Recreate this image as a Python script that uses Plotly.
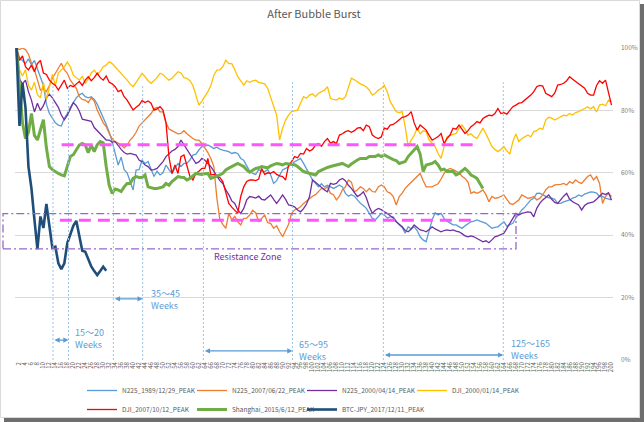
import plotly.graph_objects as go

# ---------------- data (percent of peak, one value per week) ----------------
n225_1989 = [
    100, 97, 96, 95, 96.5, 94.6, 96, 93.5, 91, 88,
    82, 79, 77.5, 76, 75.3, 75, 77.5, 79, 81, 82.5,
    84, 85, 85.5, 84.4, 84, 84.4, 83.5, 82, 80, 78,
    75.5, 73, 70, 66.2, 62.5, 65, 61, 60, 57, 54.5,
    60.9, 61, 64, 63, 63.6, 61, 58.8, 60.5, 59.3, 60,
    62.5, 61, 59.8, 61.5, 63, 62, 63, 63, 64.1, 65.7,
    66, 67.3, 68.4, 68.6, 68.9, 68.4, 67.8, 68.2, 67.6, 67.3,
    67, 66.8, 66.2, 66.5, 66.2, 64.6, 64, 62, 60.5, 59.8,
    59.5, 61, 60.5, 60.4, 61, 59.3, 56.6, 57.5, 59.3, 60.9,
    61.4, 62, 63, 63.5, 64.1, 64.6, 63, 61.4, 59.5, 57.7,
    56.6, 55.5, 56.5, 55.5, 56, 55.5, 55, 55.5, 56.1, 55.5,
    53.4, 52.5, 53, 52.5, 51.3, 50.2, 49.5, 48.6, 47, 45.4,
    44.9, 46, 47, 46.5, 45.5, 45.9, 45.9, 44.5, 43.3, 42.5,
    40.6, 42.7, 42, 42.7, 41.5, 39.5, 38.5, 37.9, 41.1, 44.9,
    47.2, 46.5, 47, 45.4, 44.5, 43.8, 43.3, 43.3, 42.8, 42.2,
    43, 43.8, 44.3, 44.5, 44.9, 44.5, 44.2, 43.8, 43, 42.2,
    42.5, 42.7, 43.5, 44.3, 42.9, 43.3, 43.8, 45.5, 47, 48.1,
    49, 50.2, 51.3, 51.8, 53.4, 53.5, 53, 52.4, 52, 51.9,
    51.5, 50.2, 50.2, 50.7, 51, 51.3, 51.9, 52.2, 52.9, 52.5,
    53.2, 53.5, 53.9, 53.8, 53.5, 52.4, 52.4, 51.9, 51.6, 51.3,
]

n225_2007 = [
    100, 99.5, 100, 99.5, 98, 95.1, 93, 89.7, 86.5, 87,
    86, 88, 90.3, 91.9, 93.5, 95.1, 93, 91.9, 89.7, 88.5,
    87.1, 84.4, 83.5, 83.3, 82.5, 84, 83, 80.1, 78, 76,
    74.8, 72.6, 71, 70, 69.5, 68.9, 68, 68.9, 70.5, 71.5,
    73, 75, 76, 77, 78, 79, 80.5, 81, 79.5, 79.5,
    76, 74, 73.5, 73, 72.5, 72.6, 73.5, 72.5, 71.6, 71,
    70.5, 70.5, 69.4, 68, 66.5, 64.6, 62, 52, 45, 43.5,
    42.2, 47, 44.9, 46, 44.3, 43.3, 45.4, 45.5, 46.5, 48,
    47.2, 44.3, 45.5, 46.5, 44, 43.8, 42.2, 43, 41.1, 39.5,
    41.5, 43.5, 47, 48.1, 48.5, 49.1, 50.2, 51, 52, 52.5,
    53, 53.9, 55, 54.7, 55.5, 53.4, 53, 51.3, 52.5, 54.5,
    55.5, 57.7, 57, 53.9, 54.5, 55.5, 55, 53.9, 55, 54,
    53.8, 55.5, 56.1, 55.5, 53.9, 53.5, 52.4, 49.7, 52.4, 53.5,
    55, 56, 57, 58, 58.8, 59.8, 57.5, 55.5, 55.5, 55.5,
    56, 56.5, 58, 59.8, 60.9, 61.4, 61, 60.4, 60, 58.9,
    58.2, 57, 53.4, 53.9, 53.4, 53.9, 54.5, 53, 50.7, 52.4,
    51.8, 52, 52.4, 52.9, 51.5, 50.2, 49.8, 50.7, 51.3, 52.9,
    52.4, 51.8, 52, 52.4, 51.3, 51.8, 52.9, 54.5, 55.5, 55.5,
    56.1, 56.1, 56.3, 56.6, 56.1, 57.2, 56.6, 57.7, 57, 56.6,
    57.7, 58.8, 59.3, 57.7, 58.8, 56.6, 50.2, 52.4, 53.4, 52.4,
]

n225_2000 = [
    100, 90, 88.5, 89.7, 86, 83.3, 79.5, 82.3, 80, 81.5,
    84, 85.2, 84, 82.5, 81, 78.5, 77, 78.5, 80.3, 82.5,
    81.5, 79.8, 77.2, 77, 76.9, 76.5, 74.5, 73.5, 72.5, 71.5,
    70.5, 70.5, 69.8, 70, 68.6, 67.5, 66.5, 66, 66.2, 66,
    65.7, 64.1, 63.5, 62.5, 62, 60.9, 61, 61.4, 62.5, 63.6,
    65.2, 66.2, 67, 67.5, 68.4, 70.5, 68.9, 67.5, 65.7, 64.5,
    63, 63.5, 64.6, 64, 63, 62, 60.5, 58.8, 57.5, 56.6,
    54.5, 53, 51, 50.2, 48.1, 47, 48.6, 51.3, 52.4, 52.2,
    51.9, 52.5, 51.5, 51.3, 52.2, 52.9, 51.5, 50.2, 51.5, 52.9,
    51.5, 49.7, 49.5, 49.1, 48.1, 47.5, 48.5, 50, 52.4, 57.7,
    57, 56.1, 55.5, 54.5, 53.9, 56.6, 56.3, 56.6, 57.7, 58.2,
    57.5, 56, 55, 53.5, 52.4, 53, 53.9, 52, 49.1, 47,
    48, 48.6, 48.2, 47.5, 47, 46.2, 45.5, 44.3, 43.5, 42.7,
    41.5, 41.1, 42, 43.3, 42.5, 41.7, 41.5, 41.1, 41.8, 42.7,
    42, 41.5, 41.1, 41.5, 41.7, 41.5, 41.7, 41.3, 41.1, 40.5,
    39.8, 39.5, 39.8, 39.5, 39, 38.5, 37.9, 38.2, 37.6, 38.5,
    39.5, 39.8, 40.3, 40.6, 42.2, 43.8, 45.5, 47, 46.5, 47,
    47.2, 47.5, 47.3, 45.9, 48.6, 50.2, 51.3, 52, 52.9, 51.5,
    50.5, 50.2, 51.5, 52.5, 53.4, 51.5, 50.7, 50.2, 49.7, 48.1,
    49.5, 50.2, 50.5, 50.7, 51.5, 52.4, 53.4, 53, 53.6, 51.3,
]

dji_2000 = [
    100, 93, 91, 93, 88, 86.5, 89, 85, 84, 89,
    83.5, 88, 91.5, 88, 92, 93, 94, 95.5, 94, 91.3,
    90.5, 89.7, 91, 88.7, 90, 92, 92.9, 91.5, 92.5, 94,
    94.5, 95.6, 95, 94, 93, 92, 91, 89.7, 88.5, 87.6,
    89, 90.5, 91.9, 90.8, 89.5, 88.7, 89.5, 90.5, 91.9, 91.5,
    90.5, 89.7, 90.3, 91.5, 92.4, 92, 90.5, 90.3, 89.5, 88,
    84.5, 81.7, 83, 84.4, 86, 88, 91.3, 92.9, 93, 94,
    96.1, 95, 95, 93, 90.8, 89.5, 88.1, 89.5, 89, 89.5,
    89.7, 89, 88.7, 88.5, 87.1, 84.4, 81.2, 78.5, 70.5, 74.3,
    76.9, 78.5, 79.6, 79.8, 80.1, 82.3, 84.4, 83.9, 84.9, 85.3,
    84.4, 85.5, 86, 86.5, 87.6, 83.9, 83.5, 83.3, 84, 83.5,
    84.4, 87.6, 90.3, 89.8, 89, 88.5, 88.1, 87.5, 86.5, 84.9,
    85.5, 86.5, 87, 88.1, 86, 82.8, 81.2, 79.6, 79.3, 79.6,
    74.8, 68.4, 70.5, 72, 74.3, 72.5, 73.5, 73.2, 70.5, 69.5,
    68.4, 66.2, 64.6, 68.4, 71.6, 72, 72.4, 72.6, 74.3, 75.3,
    74, 72.1, 72.5, 71.5, 71, 72.5, 74.3, 72.5, 70.5, 68.4,
    67.5, 66.8, 67.5, 68.4, 67, 66, 70, 72.4, 70, 71,
    71.5, 72.1, 71.5, 73.2, 73.5, 74.3, 74, 76.9, 77.8, 77.5,
    76.9, 77.5, 78, 78.5, 78.3, 79, 78.5, 79.3, 79.6, 80,
    80.6, 81.2, 80.5, 81.2, 79.5, 81.7, 82, 81.5, 83.3, 82.8,
]

dji_2007 = [
    100, 96, 97.5, 94, 93, 94.5, 92.4, 95, 96, 92,
    91.5, 89.7, 88.7, 88, 86.5, 88, 89.7, 87.1, 88, 87.6,
    88.5, 89.3, 88, 89.7, 90.8, 89.5, 90.5, 91.9, 90.5, 89.7,
    91, 89, 88.5, 87.6, 86, 86.5, 84.4, 83.3, 81.7, 80.1,
    81, 81.7, 83.1, 82.5, 83, 82.3, 80.1, 80.5, 81.2, 80.1,
    76, 65, 59.8, 62.5, 59.8, 65.2, 65.7, 62, 58.8, 57.7,
    59.8, 60.5, 61.4, 61.4, 64.6, 59.3, 59.5, 58.8, 58.5, 57.2,
    53.4, 50.2, 49, 48.1, 47, 52.4, 55.5, 57.2, 57.7, 57.7,
    57.5, 58, 61.4, 59.5, 60, 59.8, 60.4, 59.5, 59, 58.8,
    57.7, 62.5, 63.6, 65.2, 64.8, 66.2, 66, 67.8, 67, 67.5,
    68.9, 69.4, 68.5, 70, 71, 69.5, 70, 69.4, 72.1, 72.5,
    73.2, 73.5, 73, 73.5, 74.3, 74.5, 73.5, 75.3, 74.8, 72.1,
    71.4, 71, 71.5, 74.3, 74, 75.3, 75.5, 76.2, 76.9, 77.8,
    78, 78.5, 79.6, 76, 73.7, 75.3, 74.5, 73.7, 72, 70.5,
    71, 71.6, 72.6, 69.4, 71, 72.1, 74.3, 74, 75.3, 74,
    72.6, 73.5, 74.8, 75.5, 76.4, 76, 77.4, 78, 78.5, 78.3,
    79, 80.6, 79, 79.3, 78.8, 80, 81.2, 81.7, 82.3, 82.5,
    83.3, 84, 84.9, 86, 87.6, 88, 87.8, 85.5, 85, 84.4,
    85.5, 88.1, 88.3, 88.7, 89.5, 90.8, 90, 89.3, 88.5, 88,
    87.1, 85.5, 84.9, 84.9, 88, 89.5, 88.7, 89.7, 86, 81.7,
]

shanghai_2015 = [
    100, 88, 76, 71, 73, 79, 72, 70.5, 74, 77,
    68, 62, 61, 60.3, 59.8, 59.3, 59, 62, 65.2, 65.8,
    67.5, 68.9, 69.4, 68.9, 66.4, 68.9, 66.8, 69, 70, 69.6,
    62, 56, 53.4, 54.8, 54.5, 54, 55.5, 56.6, 56.6, 58.2,
    58.8, 58.5, 58.5, 59.3, 55.5, 55.2, 55, 55, 55.2, 55.5,
    56.6, 56, 57.2, 58, 58.8, 58.6, 58.5, 57.7, 58.2, 59,
    59.8, 59.6, 59.5, 59.7, 59.8, 58.2, 58.5, 58.8, 59.3, 59.8,
    60.9, 61.5, 62, 62.5, 63, 62.5, 62, 60.9, 60.2, 60.8,
    61.4, 61.6, 62, 61.8, 61.6, 62.2, 62.6, 63, 62.8, 62.5,
    63, 62.8, 62.6, 62.6, 62, 61.2, 60.4, 60.1, 59.8, 59.5,
    59.3, 60.4, 60.9, 61.4, 61.7, 62, 62.3, 62.5, 62.8, 63,
    62.5, 62, 62.8, 63.6, 64.1, 64.6, 64.6, 64.6, 65.2, 65.2,
    65.2, 65.7, 65.2, 65.7, 65.2, 64.6, 64.2, 63.9, 63, 63.3,
    63.6, 65.2, 66.2, 67.3, 68.4, 66, 60.4, 62.5, 62.8, 63,
    63.6, 62.5, 60.9, 61.2, 60.4, 60.4, 60.4, 59.3, 59.8, 60.6,
    61.4, 60.5, 59.3, 58.8, 58.2, 56.6, 55,
]

btc_jpy_2017 = [
    100, 75, 88.7, 81, 62, 55, 45, 35.5, 46, 42.3,
    50, 43, 36, 36.3, 31, 29.1, 31, 37.5, 40, 43,
    44.6, 39.2, 35, 34.7, 32, 30, 28.5, 27.2, 28.5, 29.9,
    28.6,
]

series_names = [
    "N225_1989/12/29_PEAK", "N225_2007/06/22_PEAK", "N225_2000/04/14_PEAK",
    "DJI_2000/01/14_PEAK", "DJI_2007/10/12_PEAK", "Shanghai_2015/6/12_PEAK",
    "BTC-JPY_2017/12/11_PEAK",
]
series_values = [n225_1989, n225_2007, n225_2000, dji_2000, dji_2007,
                 shanghai_2015, btc_jpy_2017]

x_tick_values = list(range(2, 201, 2))
y_tick_values = [0, 20, 40, 60, 80, 100]
y_tick_labels = ["0%", "20%", "40%", "60%", "80%", "100%"]

# annotation data (weeks / percent levels)
guide_weeks = [13.2, 18.4, 33.4, 43.2, 63.5, 93.3, 123.7, 163.8]
guide_tops = [88, 88, 88, 88, 83, 89, 89, 89]
span_labels = ["15～20<br>Weeks", "35～45<br>Weeks", "65～95<br>Weeks", "125～165<br>Weeks"]
span_from = [13.2, 33.4, 63.5, 123.7]
span_to = [18.4, 43.2, 93.3, 163.8]
span_level = [6.4, 19.6, 2.9, 1.6]
span_text_week = [19.8, 45.2, 94.9, 165.7]
span_text_level = [6.8, 19.4, 2.9, 3.5]
resist_levels = [69.0, 44.8]
resist_from = [16.1, 15.5]
resist_to = [154.3, 153.2]
zone_low, zone_high = 35.6, 46.9

# ---------------- styling ----------------
colors = ["#5B9BD5", "#ED7D31", "#7030A0", "#FFC000", "#FF0000", "#70AD47", "#1F4E79"]
widths = [1.3, 1.3, 1.3, 1.3, 1.3, 3.0, 2.6]
# legend columns (legend laid out as a 4-column grid, two rows)
legend_columns = ["c1", "c2", "c3", "c4", "c1", "c2", "c3"]
FONT = "Noto Sans CJK JP, Noto Sans, sans-serif"

W, H = 644, 422
L, R, T, B = 15, 31, 48, 62
PW, PH = W - L - R, H - T - B


def px(xp):
    return (xp - L) / PW


def py(yp):
    return (H - B - yp) / PH


fig = go.Figure()
for name, vals, col, wd, grp in zip(series_names, series_values, colors, widths, legend_columns):
    fig.add_trace(go.Scatter(
        x=list(range(1, len(vals) + 1)), y=vals, mode="lines", name=name,
        line=dict(color=col, width=wd), legendgroup=grp, hoverinfo="skip",
    ))

shapes = []
# chart border and shadow
shapes.append(dict(type="rect", xref="paper", yref="paper", x0=px(0.5), x1=px(639.5),
                   y0=py(0.5), y1=py(417.5), line=dict(color="#D9D9D9", width=1), layer="below"))
shapes.append(dict(type="rect", xref="paper", yref="paper", x0=px(640), x1=px(644),
                   y0=py(4), y1=py(422), line=dict(width=0), fillcolor="#6E6E6E"))
shapes.append(dict(type="rect", xref="paper", yref="paper", x0=px(4), x1=px(644),
                   y0=py(418), y1=py(422), line=dict(width=0), fillcolor="#6E6E6E"))
# guide lines
for gw, gt in zip(guide_weeks, guide_tops):
    shapes.append(dict(type="line", xref="x", yref="y", x0=gw, x1=gw, y0=0, y1=gt,
                       line=dict(color="#9DC3E6", width=1, dash="2px,2px")))
# resistance dashed lines
for lv, a, b in zip(resist_levels, resist_from, resist_to):
    shapes.append(dict(type="line", xref="x", yref="y", x0=a, x1=b, y0=lv, y1=lv,
                       line=dict(color="#FF55FF", width=3, dash="12px,7px")))
# resistance zone box
shapes.append(dict(type="rect", xref="paper", yref="paper", x0=px(3), x1=px(516),
                   y0=zone_low / 100, y1=zone_high / 100,
                   line=dict(color="#9966CC", width=1.3, dash="8px,3px,2px,3px")))

annotations = []
for a, b, lv in zip(span_from, span_to, span_level):
    annotations.append(dict(x=b, y=lv, ax=a, ay=lv, xref="x", yref="y", axref="x", ayref="y",
                            text="", showarrow=True, arrowhead=2, arrowside="end+start",
                            arrowsize=0.8, arrowwidth=1.3, arrowcolor="#5B9BD5"))
for t, tw, tl in zip(span_labels, span_text_week, span_text_level):
    annotations.append(dict(x=tw, y=tl, xref="x", yref="y", text=t, showarrow=False,
                            xanchor="left", yanchor="middle", align="left",
                            font=dict(family=FONT, size=9, color="#5B9BD5")))
annotations.append(dict(x=78.4, y=33.2, xref="x", yref="y", text="Resistance Zone",
                        showarrow=False, xanchor="center", yanchor="middle",
                        font=dict(family=FONT, size=9, color="#7030A0")))

fig.update_layout(
    width=W, height=H,
    margin=dict(l=L, r=R, t=T, b=B, autoexpand=False),
    paper_bgcolor="white", plot_bgcolor="white",
    title=dict(text="After Bubble Burst", x=0.5, xref="paper", xanchor="center",
               y=1 - 14 / H, yref="container", yanchor="middle",
               font=dict(family=FONT, size=11, color="#595959")),
    xaxis=dict(range=[0.5, 200.5], tickmode="array", tickvals=x_tick_values,
               ticktext=[str(v) for v in x_tick_values], tickangle=-90,
               tickfont=dict(family=FONT, size=6, color="#595959"),
               showgrid=False, zeroline=False, showline=False, ticks="", automargin=False),
    yaxis=dict(range=[0, 100], side="right", tickmode="array", tickvals=y_tick_values,
               ticktext=y_tick_labels, tickfont=dict(family=FONT, size=6.5, color="#7F7F7F"),
               showgrid=True, gridcolor="#D9D9D9", gridwidth=1, zeroline=False,
               showline=False, ticks="", ticklabelstandoff=7, automargin=False),
    legend=dict(orientation="h", x=px(82), y=py(376), xanchor="left", yanchor="top",
                traceorder="grouped", tracegroupgap=0, groupclick="toggleitem",
                entrywidth=65, entrywidthmode="pixels", bgcolor="rgba(0,0,0,0)",
                font=dict(family=FONT, size=6.5, color="#595959")),
    shapes=shapes, annotations=annotations, showlegend=True,
)

fig.write_html("out.html", config={"displayModeBar": False, "staticPlot": True},
               post_script="document.body.style.margin='0px';document.body.style.overflow='hidden';")
